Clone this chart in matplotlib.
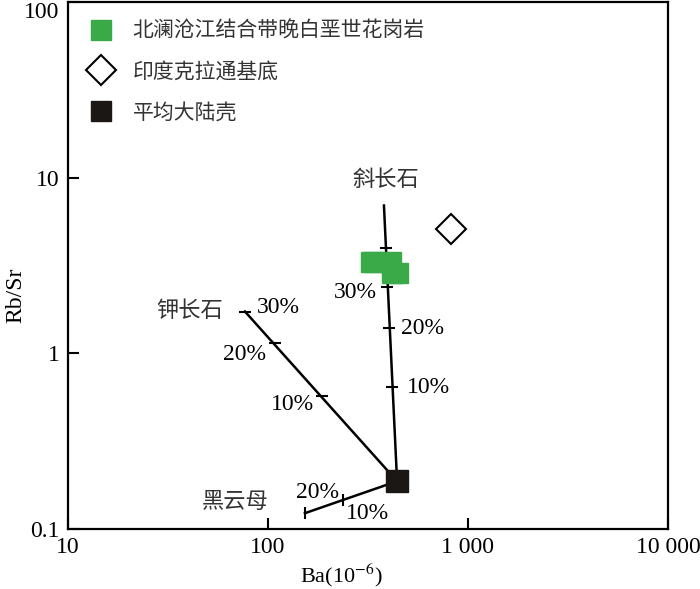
import numpy as np
import matplotlib as mpl
mpl.use('Agg')
import matplotlib.pyplot as plt
from matplotlib.lines import Line2D

plt.rcParams['font.family'] = ['Liberation Serif', 'Noto Sans CJK SC']
plt.rcParams['mathtext.fontset'] = 'stix'

# samples: Late Cretaceous granite (Ba, Rb/Sr)
granite_ba = np.array([327, 338, 412, 416, 447])
granite_rbsr = np.array([3.33, 3.29, 3.33, 2.85, 2.85])
# Indian craton basement
craton_ba = np.array([822])
craton_rbsr = np.array([5.07])
# average continental crust
crust_ba = np.array([442])
crust_rbsr = np.array([0.187])

# fractionation vectors (start at crust, end at mineral end)
plag_ba = np.array([442, 380])
plag_rbsr = np.array([0.187, 6.94])
kfs_ba = np.array([442, 76.7])
kfs_rbsr = np.array([0.187, 1.73])
bt_ba = np.array([442, 153])
bt_rbsr = np.array([0.187, 0.123])

# tick marks on the vectors
plag_tick_ba = np.array([389, 394, 403, 417])
plag_tick_rbsr = np.array([4.0, 2.37, 1.39, 0.64])
kfs_tick_ba = np.array([76.7, 108, 186])
kfs_tick_rbsr = np.array([1.73, 1.14, 0.57])
bt_tick_ba = np.array([153, 237])
bt_tick_rbsr = np.array([0.123, 0.146])

legend_labels = ['北澜沧江结合带晚白垩世花岗岩', '印度克拉通基底', '平均大陆壳']

fig = plt.figure(figsize=(7.0, 5.89), dpi=100)
ax = fig.add_axes([0.0971, 0.1019, 0.8572, 0.8947])

lw = 1.8
ax.plot(plag_ba, plag_rbsr, color='black', lw=lw)
ax.plot(kfs_ba, kfs_rbsr, color='black', lw=lw)
ax.plot(bt_ba, bt_rbsr, color='black', lw=lw)
ax.plot(plag_tick_ba, plag_tick_rbsr, ls='none', marker='_', ms=9, mew=1.5, color='black')
ax.plot(kfs_tick_ba, kfs_tick_rbsr, ls='none', marker='_', ms=9, mew=1.5, color='black')
ax.plot(bt_tick_ba, bt_tick_rbsr, ls='none', marker='|', ms=9, mew=1.5, color='black')

ax.plot(granite_ba, granite_rbsr, ls='none', marker='s', ms=15, color='#3aaa48', mec='#3aaa48')
ax.plot(craton_ba, craton_rbsr, ls='none', marker='D', ms=15, mfc='white', mec='black', mew=1.5)
ax.plot(crust_ba, crust_rbsr, ls='none', marker='s', ms=16, color='#1a1714', zorder=5)

fs = 17
cfs = 16
ax.text(389, 9.6, '斜长石', fontsize=cfs, ha='center', va='center', color='#333333')
ax.text(272, 2.22, '30%', fontsize=fs, ha='center', va='center')
ax.text(589, 1.39, '20%', fontsize=fs, ha='center', va='center')
ax.text(638, 0.64, '10%', fontsize=fs, ha='center', va='center')
ax.text(40.7, 1.73, '钾长石', fontsize=cfs, ha='center', va='center', color='#333333')
ax.text(113, 1.82, '30%', fontsize=fs, ha='center', va='center')
ax.text(76.7, 0.99, '20%', fontsize=fs, ha='center', va='center')
ax.text(132, 0.51, '10%', fontsize=fs, ha='center', va='center')
ax.text(68.4, 0.141, '黑云母', fontsize=cfs, ha='center', va='center', color='#333333')
ax.text(176, 0.162, '20%', fontsize=fs, ha='center', va='center')
ax.text(313, 0.122, '10%', fontsize=fs, ha='center', va='center')

ax.set_xscale('log')
ax.set_yscale('log')
ax.set_xlim(10, 10000)
ax.set_ylim(0.1, 100)
ax.set_xticks([10, 100, 1000, 10000])
ax.set_xticklabels(['10', '100', '1 000', '10 000'])
ax.set_yticks([0.1, 1, 10, 100])
ax.set_yticklabels(['0.1', '1', '10', '100'])
ax.get_yticklabels()[-1].set_va('top')
ax.minorticks_off()
ax.tick_params(direction='in', length=8, width=1.5, labelsize=17, pad=6)
for s in ax.spines.values():
    s.set_linewidth(1.6)
ax.set_xlabel('Ba(10$^{-6}$)', fontsize=16)
ax.set_ylabel('Rb/Sr', fontsize=17)
ax.xaxis.set_label_coords(0.455, -0.062)
ax.yaxis.set_label_coords(-0.07, 0.444)

handles = [
    Line2D([], [], ls='none', marker='s', ms=15, color='#3aaa48'),
    Line2D([], [], ls='none', marker='D', ms=15, mfc='white', mec='black', mew=1.5),
    Line2D([], [], ls='none', marker='s', ms=15, color='#1a1714'),
]
leg = ax.legend(handles, legend_labels, loc='upper left', bbox_to_anchor=(0.0, 0.998),
                frameon=False, fontsize=15, labelspacing=1.0, handletextpad=0.8,
                handlelength=1.4)
for t in leg.get_texts():
    t.set_color('#333333')

fig.savefig('out.png', dpi=100)
